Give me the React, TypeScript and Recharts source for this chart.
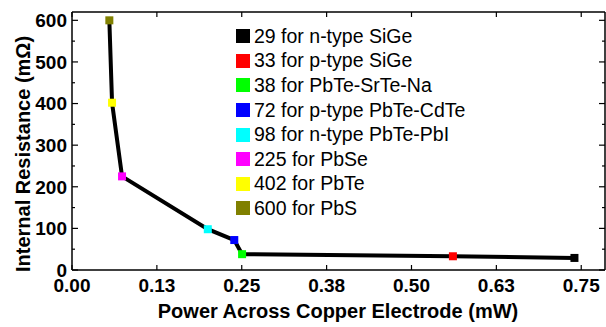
import { Legend, Line, LineChart, ReferenceLine, XAxis, YAxis } from "recharts";

// legend order: lowest resistance first
const RESISTANCE = [29, 33, 38, 72, 98, 225, 402, 600];
const POWER = [0.74, 0.561, 0.2505, 0.239, 0.2, 0.0737, 0.059, 0.055];
const MATERIALS = [
  "n-type SiGe",
  "p-type SiGe",
  "PbTe-SrTe-Na",
  "p-type PbTe-CdTe",
  "n-type PbTe-PbI",
  "PbSe",
  "PbTe",
  "PbS",
];
const COLORS = ["#000000", "#ff0000", "#00ff00", "#0000ff", "#00ffff", "#ff00ff", "#ffff00", "#808000"];

const X_TICKS = [0, 0.125, 0.25, 0.375, 0.5, 0.625, 0.75];
const Y_TICKS = [0, 50, 100, 150, 200, 250, 300, 350, 400, 450, 500, 550, 600];
const X_DOMAIN = [0, 0.785];
const Y_DOMAIN = [0, 620];

const FONT = "'Liberation Sans', Arial, sans-serif";

// plot box, from the chart margins below
const W = 606;
const H = 327;
const MARGIN = { top: 12, right: 1, bottom: 27, left: 0 };
const Y_AXIS_W = 72;
const X_AXIS_H = 30;
const LEFT = MARGIN.left + Y_AXIS_W;
const RIGHT = W - MARGIN.right;
const TOP = MARGIN.top;
const BOTTOM = H - MARGIN.bottom - X_AXIS_H;

const data = POWER.map((p, i) => ({
  power: p,
  resistance: RESISTANCE[i],
  label: `${RESISTANCE[i]} for ${MATERIALS[i]}`,
}));

const frame = { stroke: "#000", strokeWidth: 1.5 };

const XTick = (props: any) => {
  const { x, y, payload } = props;
  return (
    <g>
      <line x1={x} x2={x} y1={BOTTOM} y2={BOTTOM - 5} stroke="#000" strokeWidth={1.2} />
      <line x1={x} x2={x} y1={TOP} y2={TOP + 5} stroke="#000" strokeWidth={1.2} />
      <text x={x} y={y} dy="0.71em" textAnchor="middle" fontFamily={FONT} fontSize={19} fontWeight={700} fill="#000">
        {Number(payload.value).toFixed(2)}
      </text>
    </g>
  );
};

const YTick = (props: any) => {
  const { x, y, payload } = props;
  const major = payload.value % 100 === 0;
  const len = major ? 6 : 3;
  return (
    <g>
      <line x1={LEFT} x2={LEFT + len} y1={y} y2={y} stroke="#000" strokeWidth={1.2} />
      <line x1={RIGHT - len} x2={RIGHT} y1={y} y2={y} stroke="#000" strokeWidth={1.2} />
      {major && (
        <text x={x} y={y} dy="0.355em" textAnchor="end" fontFamily={FONT} fontSize={19} fontWeight={700} fill="#000">
          {payload.value}
        </text>
      )}
    </g>
  );
};

const SquareDot = (props: any) => {
  const { cx, cy, index } = props;
  return <rect key={`dot-${index}`} x={cx - 4} y={cy - 4} width={8} height={8} fill={COLORS[index]} />;
};

const LegendBox = () => (
  <div style={{ fontFamily: FONT, fontSize: 19.5, color: "#000" }}>
    {data.map((d, i) => (
      <div key={d.label} style={{ display: "flex", alignItems: "center", height: 24.6, whiteSpace: "nowrap" }}>
        <span style={{ width: 14, height: 14, background: COLORS[i], marginRight: 4, display: "inline-block" }} />
        {d.label}
      </div>
    ))}
  </div>
);

export default function App() {
  return (
    <div style={{ width: W, height: H, background: "#fff" }}>
      <style>{"body{margin:0}"}</style>
      <LineChart width={W} height={H} data={data} margin={MARGIN}>
        <XAxis type="number" dataKey="power" domain={X_DOMAIN} allowDataOverflow
          ticks={X_TICKS} interval={0} height={X_AXIS_H} tickSize={6} tickMargin={3}
          tick={XTick} axisLine={frame} tickLine={false}
          label={() => (
            <text x={338} y={318} textAnchor="middle" fontFamily={FONT} fontSize={20} fontWeight={700} fill="#000">
              Power Across Copper Electrode (mW)
            </text>
          )}
        />
        <YAxis type="number" dataKey="resistance" domain={Y_DOMAIN} allowDataOverflow
          ticks={Y_TICKS} interval={0} width={Y_AXIS_W} tickSize={3} tickMargin={2}
          tick={YTick} axisLine={frame} tickLine={false}
          label={() => (
            <text x={30} y={154} transform="rotate(-90 30 154)" textAnchor="middle"
              fontFamily={FONT} fontSize={20} fontWeight={700} fill="#000">
              Internal Resistance (mΩ)
            </text>
          )}
        />

        <ReferenceLine y={Y_DOMAIN[1]} stroke="#000" strokeWidth={1.5} ifOverflow="visible" />
        <ReferenceLine x={X_DOMAIN[1]} stroke="#000" strokeWidth={1.5} ifOverflow="visible" />

        <Line type="linear" dataKey="resistance" stroke="#000" strokeWidth={4}
          dot={SquareDot} activeDot={false} isAnimationActive={false} />

        <Legend layout="vertical" align="center" verticalAlign="middle"
          wrapperStyle={{ left: 236, top: 24, width: "auto" }} content={LegendBox} />
      </LineChart>
    </div>
  );
}
